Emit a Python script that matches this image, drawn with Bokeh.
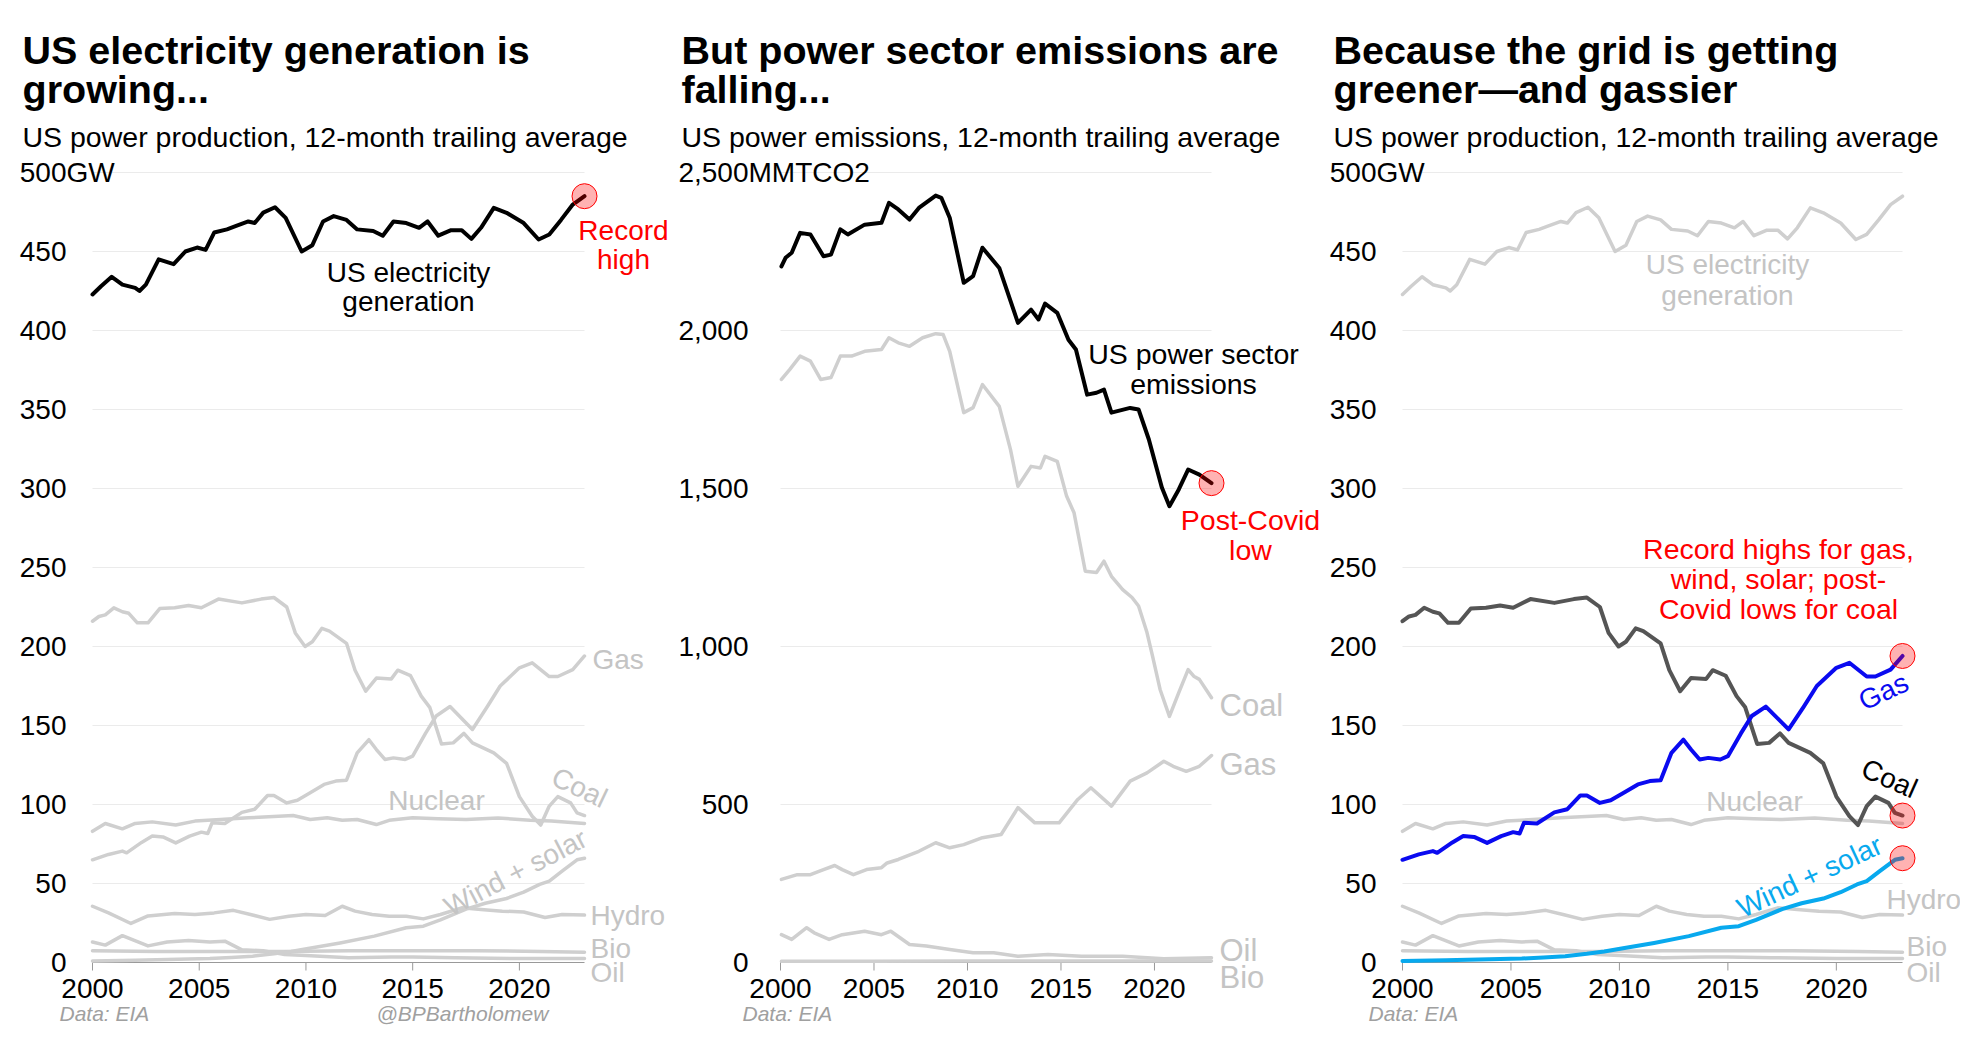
import math
from bokeh.plotting import figure
from bokeh.models import Label, Range1d, ColumnDataSource
from bokeh.core.properties import value
from bokeh.layouts import row
from bokeh.embed import file_html
from bokeh.resources import INLINE

FONT = "Liberation Sans"
GRAY = "#cfcfcf"
LGRAY = "#c4c4c4"
RED = "#ff0000"
BLUE = "#0a0af0"
LBLUE = "#08a9ee"
DARK = "#555555"
AXIS = "#999999"

# ---------------- data ----------------
# US power production, 12-month trailing average, GW
gen_x = [2000.0, 2000.4, 2000.9, 2001.4, 2002.0, 2002.2, 2002.5, 2003.1, 2003.8, 2004.35, 2004.9, 2005.3, 2005.7,
         2006.3, 2006.7, 2007.3, 2007.6, 2008.0, 2008.55, 2009.05, 2009.8, 2010.3, 2010.8, 2011.3, 2011.9, 2012.4,
         2013.15, 2013.6, 2014.1, 2014.7, 2015.3, 2015.7, 2016.2, 2016.8, 2017.3, 2017.75, 2018.2, 2018.8, 2019.4,
         2020.2, 2020.9, 2021.4, 2021.95, 2022.5, 2023.05]
gen_y = [422.8, 428, 434, 429, 427, 425, 429, 445, 442, 450, 452.5, 451, 462, 464, 466, 469, 468, 474.6, 478,
         471.3, 450, 454, 469, 472.4, 470, 464, 463, 460, 469, 468, 465, 469, 460, 463.5, 463.5, 458, 465, 477.6,
         474.5, 468, 457.6, 460.8, 470, 479.7, 485]

coal_x = [2000.0, 2000.3, 2000.6, 2001.0, 2001.4, 2001.7, 2002.1, 2002.6, 2003.15, 2003.85, 2004.5, 2005.1, 2005.9,
          2007.0, 2007.9, 2008.5, 2009.1, 2009.5, 2009.96, 2010.3, 2010.75, 2011.1, 2011.9, 2012.3, 2012.8, 2013.3,
          2014.0, 2014.3, 2014.9, 2015.4, 2015.8, 2016.35, 2016.9, 2017.4, 2017.8, 2018.8, 2019.4, 2020.0, 2020.6,
          2021.0, 2021.4, 2021.8, 2022.4, 2022.7, 2023.05]
coal_y = [216, 219, 220, 224.5, 222, 221, 215, 215, 224, 224.5, 226, 224.5, 230, 227.6, 230, 231, 225, 208.6, 200,
          203, 211.5, 209.7, 202, 185, 171.7, 180, 179.5, 185, 181.5, 168.6, 161.5, 138.3, 139, 145, 139, 132.7,
          126, 105, 92.6, 87, 99, 105, 101, 94.7, 93]

gas_x = [2000.0, 2000.75, 2001.4, 2001.6, 2002.3, 2002.8, 2003.3, 2003.9, 2004.55, 2005.1, 2005.4, 2005.6, 2006.2,
         2007.0, 2007.6, 2008.2, 2008.5, 2009.1, 2009.6, 2010.2, 2010.85, 2011.4, 2011.9, 2012.4, 2012.95, 2013.3,
         2013.7, 2014.1, 2014.65, 2015.0, 2015.6, 2016.1, 2016.75, 2017.8, 2018.5, 2019.1, 2020.0, 2020.6, 2021.4,
         2021.8, 2022.5, 2023.05]
gas_y = [65, 68.4, 70.5, 69.4, 76, 80, 79.5, 75.7, 80, 82.5, 81.6, 88.4, 88, 95, 97, 105.7, 105.7, 101, 102.7,
         107.4, 112.7, 114.8, 115.4, 132.7, 141, 134.8, 128.5, 129.5, 128.5, 130.6, 145, 156, 162, 147.5, 162, 175,
         186.5, 189.7, 181, 181, 185.4, 194]

nuc_x = [2000.0, 2000.6, 2001.4, 2002.0, 2002.8, 2003.9, 2004.8, 2006.0, 2007.3, 2009.4, 2010.2, 2011.0, 2011.7,
         2012.4, 2013.3, 2013.9, 2015.0, 2016.2, 2017.5, 2019.0, 2020.5, 2021.5, 2023.05]
nuc_y = [83, 88, 84.6, 88, 89, 87, 89.5, 90.5, 91.6, 93, 90.5, 91.6, 90, 90.5, 87.3, 90, 91.6, 91, 90.5, 91.5, 90,
         89.5, 88]

hydro_x = [2000.0, 2000.75, 2001.8, 2002.6, 2003.85, 2004.8, 2005.7, 2006.6, 2007.4, 2008.3, 2009.2, 2010.0, 2010.9,
           2011.7, 2012.3, 2013.1, 2013.9, 2014.7, 2015.5, 2016.3, 2017.3, 2018.2, 2019.2, 2020.2, 2021.2, 2022.0,
           2023.05]
hydro_y = [35.6, 31.4, 24.7, 29.5, 31, 30.4, 31.4, 33, 30.4, 27.3, 29.3, 30.4, 29.7, 35.6, 32.5, 30.4, 29.3, 29.3,
           27.6, 30.4, 34.6, 33.5, 32.5, 32, 28.5, 30.4, 30]

wind_x = [2000.0, 2002.0, 2004.0, 2005.5, 2006.5, 2007.5, 2008.5, 2009.3, 2010.1, 2011.6, 2013.2, 2014.7, 2015.5,
          2016.3, 2017.5, 2018.4, 2019.4, 2020.2, 2020.95, 2021.4, 2022.0, 2022.7, 2023.05]
wind_y = [1.0, 1.5, 2, 2.5, 3.2, 4, 5.5, 7, 8.8, 12.4, 16.7, 22, 23, 27, 33.8, 37.5, 40.5, 44.5, 49.4, 51.5, 57.8,
          65, 66]

bio_x = [2000.0, 2003.0, 2006.0, 2009.0, 2012.0, 2015.0, 2018.0, 2021.0, 2023.05]
bio_y = [7.5, 7, 7, 7, 7.5, 7.5, 7.5, 7, 6.5]

oil_x = [2000.0, 2000.6, 2001.4, 2002.6, 2003.5, 2004.5, 2005.5, 2006.2, 2007.0, 2008.0, 2009.0, 2010.0, 2012.0,
         2014.0, 2015.0, 2017.0, 2020.0, 2023.05]
oil_y = [13, 11, 17, 10.5, 13, 14, 13, 13.5, 8, 7.5, 5, 4.5, 3, 3.5, 3.5, 3, 2.5, 2.5]

# US power emissions, 12-month trailing average, MMTCO2
em_x = [2000.05, 2000.27, 2000.6, 2001.05, 2001.6, 2002.3, 2002.7, 2003.2, 2003.6, 2004.5, 2005.4, 2005.8, 2006.3,
        2006.9, 2007.4, 2008.3, 2008.6, 2009.05, 2009.8, 2010.3, 2010.8, 2011.7, 2012.7, 2013.4, 2013.8, 2014.15,
        2014.8, 2015.4, 2015.8, 2016.4, 2016.9, 2017.3, 2017.7, 2018.7, 2019.15, 2019.7, 2020.4, 2020.8, 2021.3,
        2021.8, 2022.4, 2023.05]
em_y = [2203, 2230, 2246, 2309, 2304, 2235, 2240, 2320, 2304, 2335, 2341, 2404, 2383, 2351, 2388, 2427, 2420, 2357,
        2151, 2172, 2262, 2198, 2024, 2066, 2035, 2085, 2056, 1971, 1940, 1797, 1803, 1813, 1740, 1755, 1750, 1655,
        1502, 1444, 1497, 1560, 1544, 1517]

ce_x = [2000.05, 2000.5, 2001.05, 2001.6, 2002.15, 2002.7, 2003.2, 2003.8, 2004.5, 2005.4, 2005.8, 2006.3, 2006.9,
        2007.6, 2008.3, 2008.7, 2009.05, 2009.8, 2010.3, 2010.8, 2011.7, 2012.3, 2012.7, 2013.4, 2013.9, 2014.15,
        2014.8, 2015.3, 2015.7, 2016.3, 2016.9, 2017.3, 2017.7, 2018.3, 2018.8, 2019.15, 2019.6, 2019.9, 2020.3,
        2020.8, 2021.3, 2021.8, 2022.1, 2022.4, 2023.05]
ce_y = [1845, 1877, 1919, 1903, 1845, 1851, 1919, 1919, 1934, 1940, 1977, 1961, 1950, 1977, 1990, 1987, 1934, 1740,
        1756, 1829, 1760, 1623, 1507, 1570, 1565, 1602, 1586, 1476, 1423, 1238, 1234, 1270, 1222, 1180, 1155, 1128,
        1044, 969, 864, 779, 854, 927, 906, 896, 838]

ge_x = [2000.05, 2000.9, 2001.6, 2002.3, 2002.9, 2003.3, 2003.9, 2004.6, 2005.4, 2005.7, 2006.3, 2007.4, 2008.3,
        2009.05, 2009.8, 2010.8, 2011.8, 2012.7, 2013.6, 2014.9, 2015.9, 2016.6, 2017.7, 2018.7, 2019.6, 2020.5,
        2021.0, 2021.7, 2022.4, 2023.05]
ge_y = [263, 278, 278, 294, 307, 294, 278, 294, 300, 315, 326, 352, 379, 363, 373, 395, 405, 490, 442, 442, 516,
        553, 495, 574, 600, 637, 621, 605, 621, 655]

oe_x = [2000.05, 2000.6, 2001.4, 2001.8, 2002.6, 2003.3, 2004.5, 2005.4, 2005.9, 2006.9, 2007.8, 2009.05, 2010.3,
        2011.4, 2012.7, 2014.3, 2016.1, 2018.3, 2020.5, 2023.05]
oe_y = [88, 73, 110, 94, 73, 88, 99, 88, 99, 57, 52, 41, 31, 31, 20, 25, 20, 20, 12, 15]

be_x = [2000.05, 2005.0, 2010.0, 2015.0, 2020.0, 2023.05]
be_y = [4, 4, 5, 5, 5, 5]

year_ticks = [2000, 2005, 2010, 2015, 2020]
year_labels = ["2000", "2005", "2010", "2015", "2020"]
gw_ticks = [0, 50, 100, 150, 200, 250, 300, 350, 400, 450, 500]
gw_labels = ["0", "50", "100", "150", "200", "250", "300", "350", "400", "450", "500"]
co2_ticks = [0, 500, 1000, 1500, 2000, 2500]
co2_labels = ["0", "500", "1,000", "1,500", "2,000", "2,500"]

# ---------------- layout (page pixels) ----------------
XSTART = 2000.0
XEND = 2023.05
H = 1033
PAGE = 8          # page margin
Y_ZERO = 970      # page y of value 0
Y_TOP = 180       # page y of the top tick
TICK_FS = "28px"
ANN_FS = "28px"


class Panel:
    def __init__(self, page_left, width, left, data_w, ymax, lab_gap=26):
        self.page_left = page_left
        self.width = width
        self.data_left = page_left + left
        self.xs = data_w / (XEND - XSTART)
        self.ys = (Y_ZERO - Y_TOP) / ymax
        self.lab_gap = lab_gap

    def X(self, px):
        return XSTART + (px - self.data_left) / self.xs

    def Y(self, py):
        return (Y_ZERO - py) / self.ys

    def fig(self):
        p = figure(width=self.width, height=H, output_backend="svg", toolbar_location=None,
                   title=None, x_axis_location=None, y_axis_location=None,
                   x_range=Range1d(self.X(self.page_left), self.X(self.page_left + self.width)),
                   y_range=Range1d(self.Y(PAGE + H), self.Y(PAGE)),
                   min_border_left=0, min_border_right=0, min_border_top=0, min_border_bottom=0)
        p.outline_line_color = None
        p.background_fill_color = "white"
        p.border_fill_color = "white"
        p.grid.visible = False
        return p


def axes(p, pn, ticks, labels, unit):
    n = len(ticks)
    # horizontal gridlines
    p.segment(x0=[XSTART] * (n - 1), x1=[XEND] * (n - 1), y0=ticks[1:], y1=ticks[1:],
              line_color="#ebebeb", line_width=1)
    # y tick labels
    src = ColumnDataSource(dict(x=[XSTART] * n, y=ticks, t=labels))
    p.text(x="x", y="y", text="t", source=src, x_offset=-pn.lab_gap, text_align="right",
           text_baseline="middle", text_font=value(FONT), text_font_size=value(TICK_FS),
           text_color="black")
    p.add_layout(Label(x=pn.X(pn.data_left - pn.lab_gap), y=ticks[-1], text=unit, text_font=FONT,
                       text_font_size=TICK_FS, text_color="black", text_align="left",
                       text_baseline="middle"))
    # x axis line, ticks and labels
    p.segment(x0=[XSTART], x1=[XEND], y0=[0], y1=[0], line_color=AXIS, line_width=1)
    m = len(year_ticks)
    p.segment(x0=year_ticks, x1=year_ticks, y0=[0] * m, y1=[pn.Y(Y_ZERO + 8)] * m,
              line_color=AXIS, line_width=1)
    src2 = ColumnDataSource(dict(x=year_ticks, y=[pn.Y(Y_ZERO + 26)] * m, t=year_labels))
    p.text(x="x", y="y", text="t", source=src2, text_align="center", text_baseline="alphabetic",
           text_font=value(FONT), text_font_size=value(TICK_FS), text_color="black")


def txt(p, x, y, text, size=ANN_FS, color="black", align="left", baseline="middle",
        angle=0.0, style="normal"):
    p.add_layout(Label(x=x, y=y, text=text, angle=math.radians(angle),
                       text_font=FONT, text_font_size=size, text_color=color, text_align=align,
                       text_baseline=baseline, text_font_style=style))


def header(p, pn, px, t1, t2, sub):
    txt(p, pn.X(px), pn.Y(57), t1, size="39.5px", baseline="alphabetic", style="bold")
    txt(p, pn.X(px), pn.Y(96), t2, size="39.5px", baseline="alphabetic", style="bold")
    txt(p, pn.X(px), pn.Y(144), sub, size="28.5px", baseline="alphabetic")


def source(p, pn, px, text="Data: EIA"):
    txt(p, pn.X(px), pn.Y(1021), text, size="21px", color="#a0a0a0", baseline="alphabetic",
        style="italic")


def ln(p, x, y, color, w=3.5):
    p.line(x, y, line_color=color, line_width=w, line_join="round", line_cap="round")


def dot(p, x, y):
    p.scatter([x], [y], size=25, fill_color=RED, fill_alpha=0.3, line_color=RED, line_width=1)


# ---------------- panel 1 ----------------
P1 = Panel(8, 668, 92, 492, 500)
p1 = P1.fig()
axes(p1, P1, gw_ticks, gw_labels, "GW")
header(p1, P1, 30, "US electricity generation is", "growing...",
       "US power production, 12-month trailing average")
for xs, ys in [(oil_x, oil_y), (bio_x, bio_y), (hydro_x, hydro_y), (wind_x, wind_y),
               (nuc_x, nuc_y), (coal_x, coal_y), (gas_x, gas_y)]:
    ln(p1, xs, ys, GRAY)
ln(p1, gen_x, gen_y, "black", 4)
dot(p1, gen_x[-1], gen_y[-1])
txt(p1, P1.X(416), P1.Y(280), "US electricity", align="center", baseline="alphabetic")
txt(p1, P1.X(416), P1.Y(309), "generation", align="center", baseline="alphabetic")
txt(p1, P1.X(631), P1.Y(238), "Record", color=RED, align="center", baseline="alphabetic")
txt(p1, P1.X(631), P1.Y(267), "high", color=RED, align="center", baseline="alphabetic")
txt(p1, P1.X(600), P1.Y(667), "Gas", color=LGRAY)
txt(p1, P1.X(587), P1.Y(795), "Coal", color=LGRAY, align="center", angle=-25.6)
txt(p1, P1.X(444), P1.Y(808), "Nuclear", color=LGRAY, align="center")
txt(p1, P1.X(523), P1.Y(880), "Wind + solar", color=LGRAY, align="center", angle=27.5)
txt(p1, P1.X(598), P1.Y(923), "Hydro", color=LGRAY)
txt(p1, P1.X(598), P1.Y(956), "Bio", color=LGRAY)
txt(p1, P1.X(598), P1.Y(980), "Oil", color=LGRAY)
source(p1, P1, 67)
source(p1, P1, 384, "@BPBartholomew")

# ---------------- panel 2 ----------------
P2 = Panel(676, 654, 112, 431, 2500, lab_gap=32)
p2 = P2.fig()
axes(p2, P2, co2_ticks, co2_labels, "MMTCO2")
header(p2, P2, 689, "But power sector emissions are", "falling...",
       "US power emissions, 12-month trailing average")
for xs, ys in [(be_x, be_y), (oe_x, oe_y), (ge_x, ge_y), (ce_x, ce_y)]:
    ln(p2, xs, ys, GRAY)
ln(p2, em_x, em_y, "black", 4)
dot(p2, em_x[-1], em_y[-1])
txt(p2, P2.X(1201), P2.Y(361), "US power sector", align="center", baseline="alphabetic", size="28.5px")
txt(p2, P2.X(1201), P2.Y(391), "emissions", align="center", baseline="alphabetic", size="28.5px")
txt(p2, P2.X(1258), P2.Y(527), "Post-Covid", color=RED, align="center", baseline="alphabetic", size="28.5px")
txt(p2, P2.X(1258), P2.Y(557), "low", color=RED, align="center", baseline="alphabetic", size="28.5px")
txt(p2, P2.X(1227), P2.Y(713), "Coal", color=LGRAY, size="31px")
txt(p2, P2.X(1227), P2.Y(772), "Gas", color=LGRAY, size="31px")
txt(p2, P2.X(1227), P2.Y(958), "Oil", color=LGRAY, size="31px")
txt(p2, P2.X(1227), P2.Y(985), "Bio", color=LGRAY, size="31px")
source(p2, P2, 750)

# ---------------- panel 3 ----------------
P3 = Panel(1330, 638, 80, 500, 500)
p3 = P3.fig()
axes(p3, P3, gw_ticks, gw_labels, "GW")
header(p3, P3, 1341, "Because the grid is getting", "greener\u2014and gassier",
       "US power production, 12-month trailing average")
for xs, ys in [(oil_x, oil_y), (bio_x, bio_y), (hydro_x, hydro_y), (nuc_x, nuc_y), (gen_x, gen_y)]:
    ln(p3, xs, ys, GRAY)
ln(p3, coal_x, coal_y, DARK, 4)
ln(p3, gas_x, gas_y, BLUE, 4)
ln(p3, wind_x, wind_y, LBLUE, 4)
dot(p3, gas_x[-1], gas_y[-1])
dot(p3, coal_x[-1], coal_y[-1])
dot(p3, wind_x[-1], wind_y[-1])
txt(p3, P3.X(1735), P3.Y(272), "US electricity", color=LGRAY, align="center", baseline="alphabetic")
txt(p3, P3.X(1735), P3.Y(303), "generation", color=LGRAY, align="center", baseline="alphabetic")
txt(p3, P3.X(1786), P3.Y(556), "Record highs for gas,", color=RED, align="center", size="28.5px")
txt(p3, P3.X(1786), P3.Y(586), "wind, solar; post-", color=RED, align="center", size="28.5px")
txt(p3, P3.X(1786), P3.Y(616), "Covid lows for coal", color=RED, align="center", size="28.5px")
txt(p3, P3.X(1891), P3.Y(699), "Gas", color=BLUE, align="center", angle=25)
txt(p3, P3.X(1897), P3.Y(786), "Coal", color="black", align="center", angle=-24)
txt(p3, P3.X(1817), P3.Y(884), "Wind + solar", color=LBLUE, align="center", angle=25)
txt(p3, P3.X(1762), P3.Y(809), "Nuclear", color=LGRAY, align="center")
txt(p3, P3.X(1894), P3.Y(907), "Hydro", color=LGRAY)
txt(p3, P3.X(1914), P3.Y(954), "Bio", color=LGRAY)
txt(p3, P3.X(1914), P3.Y(980), "Oil", color=LGRAY)
source(p3, P3, 1376)

layout = row(p1, p2, p3, spacing=0)
open("out.html", "w").write(file_html(layout, INLINE))
